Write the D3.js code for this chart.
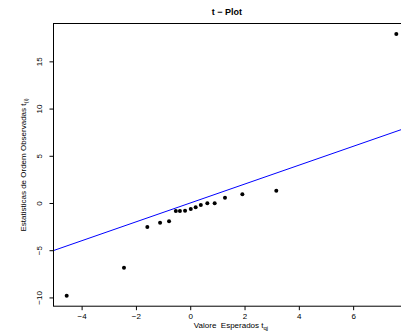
<!DOCTYPE html>
<html>
<head>
<meta charset="utf-8">
<script src="https://cdn.jsdelivr.net/npm/d3@7"></script>
<style>
  body { margin: 0; background: #fff; }
  svg { display: block; font-family: "Liberation Sans", Arial, sans-serif; }
</style>
</head>
<body>
<div id="chart"></div>
<script>
// expected vs observed order statistics
const expected = [-4.55, -2.44, -1.58, -1.11, -0.78, -0.53, -0.38, -0.19, 0.02, 0.20, 0.39, 0.63, 0.90, 1.28, 1.92, 3.17, 7.59];
const observed = [-9.82, -6.85, -2.54, -2.08, -1.93, -0.85, -0.85, -0.82, -0.64, -0.46, -0.21, -0.03, -0.03, 0.56, 0.93, 1.31, 17.9];
const xTicks = [-4, -2, 0, 2, 4, 6];
const yTicks = [-10, -5, 0, 5, 10, 15];

const w = 401, h = 331;
const padL = 53.5, padT = 23.5, plotW = 356, plotH = 282.7;

// R style 4% extension of the data range
const ext = a => {
  const [lo, hi] = d3.extent(a), d = (hi - lo) * 0.04;
  return [lo - d, hi + d];
};

const x = d3.scaleLinear().domain(ext(expected)).range([padL, padL + plotW]);
const y = d3.scaleLinear().domain(ext(observed)).range([padT + plotH, padT]);

const svg = d3.select('#chart').append('svg')
  .attr('width', w)
  .attr('height', h);

svg.append('defs').append('clipPath').attr('id', 'clip')
  .append('rect')
  .attr('x', padL).attr('y', padT)
  .attr('width', plotW).attr('height', plotH);

// reference line y = x
const xd = x.domain();
svg.append('line')
  .attr('clip-path', 'url(#clip)')
  .attr('x1', x(xd[0])).attr('y1', y(xd[0]))
  .attr('x2', x(xd[1])).attr('y2', y(xd[1]))
  .attr('stroke', '#0000ff')
  .attr('stroke-width', 1);

// points
svg.selectAll('.dot')
  .data(expected)
  .enter()
  .append('circle')
  .attr('class', 'dot')
  .attr('cx', d => x(d))
  .attr('cy', (d, i) => y(observed[i]))
  .attr('r', 2)
  .attr('fill', '#000');

// box
svg.append('rect')
  .attr('x', padL).attr('y', padT)
  .attr('width', plotW).attr('height', plotH)
  .attr('fill', 'none')
  .attr('stroke', '#000')
  .attr('stroke-width', 1);

// axes
const xAxis = svg.append('g')
  .attr('transform', 'translate(0,' + (padT + plotH) + ')')
  .call(d3.axisBottom(x).tickValues(xTicks).tickSize(4).tickSizeOuter(0)
    .tickFormat(d => d < 0 ? '\u2212' + Math.abs(d) : d));
xAxis.select('.domain').remove();
xAxis.selectAll('text')
  .attr('y', 7)
  .style('font-size', '8px')
  .style('font-family', '"Liberation Sans", Arial, sans-serif');

const yAxis = svg.append('g')
  .attr('transform', 'translate(' + padL + ',0)')
  .call(d3.axisLeft(y).tickValues(yTicks).tickSize(4).tickSizeOuter(0)
    .tickFormat(d => d < 0 ? '\u2212' + Math.abs(d) : d));
yAxis.select('.domain').remove();
yAxis.selectAll('text')
  .attr('x', null).attr('dy', null)
  .attr('transform', 'translate(-14,0) rotate(-90)')
  .attr('text-anchor', 'middle')
  .attr('dominant-baseline', 'middle')
  .style('font-size', '8px')
  .style('font-family', '"Liberation Sans", Arial, sans-serif');

// title
svg.append('text')
  .text('t \u2212 Plot')
  .attr('x', 227)
  .attr('y', 15)
  .attr('text-anchor', 'middle')
  .style('font-size', '9px')
  .style('font-weight', 'bold');

// x label
const xl = svg.append('text')
  .attr('x', 231)
  .attr('y', 328)
  .attr('text-anchor', 'middle')
  .style('font-size', '8px')
  .attr('xml:space', 'preserve');
xl.append('tspan').text('Valore  Esperados t');
xl.append('tspan').text('qj').attr('dy', 2).style('font-size', '6px');

// y label
const yl = svg.append('text')
  .attr('transform', 'translate(26,' + (padT + plotH / 2) + ') rotate(-90)')
  .attr('text-anchor', 'middle')
  .style('font-size', '8px');
yl.append('tspan').text('Estatisticas de Ordem Observadas t');
yl.append('tspan').text('(i)').attr('dy', 2).style('font-size', '6px');
</script>
</body>
</html>
